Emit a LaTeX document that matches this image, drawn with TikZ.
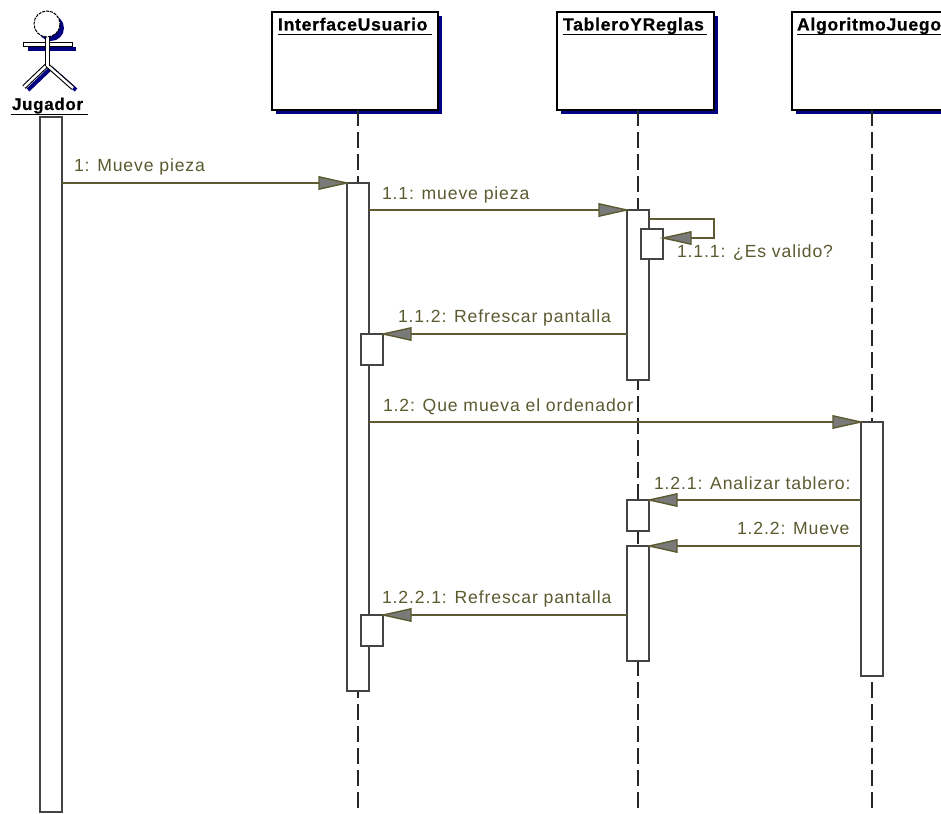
\documentclass[tikz,border=0pt]{standalone}
\usepackage{fontspec}
\usetikzlibrary{arrows.meta,shadows}
\setmainfont{Liberation Sans}
\newfontfamily\msgfont[LetterSpace=5]{Liberation Sans}
\newfontfamily\titlefont[LetterSpace=4,FakeBold=0.6]{Liberation Sans Bold}
\definecolor{olivemsg}{HTML}{5B5A30}
\definecolor{tipgray}{HTML}{7A7A7A}
\definecolor{barline}{HTML}{444444}
\definecolor{navyshadow}{HTML}{000080}
\pgfdeclarearrow{
  name=MsgTip,
  setup code={\pgfarrowssettipend{0pt}\pgfarrowssetlineend{-27pt}\pgfarrowssetvisualbackend{-28pt}\pgfarrowssetbackend{-28pt}},
  drawing code={
    \pgfpathmoveto{\pgfqpoint{0pt}{0pt}}
    \pgfpathlineto{\pgfqpoint{-13pt}{2.8pt}}
    \pgfpathlineto{\pgfqpoint{-28pt}{6.2pt}}
    \pgfpathlineto{\pgfqpoint{-28pt}{-6.2pt}}
    \pgfpathlineto{\pgfqpoint{-13pt}{-2.8pt}}
    \pgfpathclose
    \pgfusepathqfillstroke
  },
  defaults={}
}
\tikzset{
  objbox/.style={draw=black,line width=1.4pt,fill=white,inner sep=0pt,outer sep=0pt,anchor=north west,minimum height=98pt,
    drop shadow={shadow xshift=4pt,shadow yshift=-4pt,fill=navyshadow,opacity=1}},
  titletext/.style={font=\titlefont\fontsize{17.6}{20}\selectfont,text=black,inner sep=0pt,outer sep=0pt,anchor=base west},
  actortext/.style={font=\titlefont\fontsize{17}{20}\selectfont,text=black,inner sep=0pt,outer sep=0pt,anchor=base west},
  uline/.style={draw=black,line width=1.2pt},
  lifeline/.style={draw=black!85,line width=1.6pt,dash pattern=on 16pt off 6pt},
  actbar/.style={draw=barline,line width=1.4pt,fill=white,inner sep=0pt,outer sep=0pt,anchor=north west,minimum width=22pt},
  msg/.style={draw=olivemsg,line width=1.4pt,-{MsgTip[fill=tipgray]}},
  msgtext/.style={font=\msgfont\fontsize{17.6}{20}\selectfont,text=olivemsg,inner sep=0pt,outer sep=0pt,anchor=base west},
  act/.style={draw=black,line width=1pt,fill=white}
}
\begin{document}
\begin{tikzpicture}[x=1pt,y=-1pt]
\useasboundingbox (0,0) rectangle (941,813);
\fill[white] (0,0) rectangle (941,813);
\clip (0,0) rectangle (941,813);

% actor shadow
\fill[navyshadow] (51,28) circle (13);
\fill[navyshadow] (28,47) rectangle (76,51);
\draw[navyshadow,line width=4pt] (51,68) -- (28,90);
\draw[navyshadow,line width=4pt] (51,68) -- (76,90);
% actor
\draw[black,line width=4.6pt] (47,65) -- (24,87);
\draw[white,line width=2.4pt] (47,65) -- (24,87);
\draw[black,line width=4.6pt] (47,65) -- (73,88);
\draw[white,line width=2.4pt] (47,65) -- (73,88);
\draw[act] (23,43) rectangle (72,47);
\draw[black,line width=4.4pt] (47.5,37) -- (47.5,66);
\draw[white,line width=2.2pt] (47.5,37) -- (47.5,66);
\draw[black,line width=1pt,fill=white,dash pattern=on 3pt off 1pt] (47,24) circle (13);
\node[actortext] (tJ) at (12,110) {Jugador};
\draw[uline] (11,114.5) -- (88,114.5);

% lifeline ends
\coordinate (endI) at (358,813);
\coordinate (endT) at (638,813);
\coordinate (endA) at (872,813);

% objects
\node[objbox,minimum width=166pt] (boxI) at (272,12) {};
\node[objbox,minimum width=157pt] (boxT) at (557,12) {};
\node[objbox,minimum width=170pt] (boxA) at (792,12) {};
\draw[lifeline] (boxI.south -| endI) -- (endI);
\draw[lifeline] (boxT.south -| endT) -- (endT);
\draw[lifeline] (boxA.south -| endA) -- (endA);

\node[titletext] (tI) at (278,30.5) {InterfaceUsuario};
\node[titletext] (tT) at (563,30.5) {TableroYReglas};
\node[titletext] (tA) at (797,30.5) {AlgoritmoJuego};
\draw[uline] (278,34.5) -- (432,34.5);
\draw[uline] (563,34.5) -- (707,34.5);
\draw[uline] (797,34.5) -- (941,34.5);

% activations
\node[actbar,minimum height=695pt] (barJ) at (40,117) {};
\node[actbar,minimum height=508pt] (barI) at (347,183) {};
\node[actbar,minimum height=31pt] (barIa) at (361,334) {};
\node[actbar,minimum height=31pt] (barIb) at (361,615) {};
\node[actbar,minimum height=170pt] (barT) at (627,210) {};
\node[actbar,minimum height=30pt] (barTa) at (641,229) {};
\node[actbar,minimum height=31pt] (barTb) at (627,500) {};
\node[actbar,minimum height=115pt] (barTc) at (627,546) {};
\node[actbar,minimum height=254pt] (barA) at (861,422) {};

% messages
\draw[msg] (barJ.east |- 0,183) -- (barI.north west);
\draw[msg] (barI.east |- barT.north) -- (barT.north west);
\coordinate (selfa) at (714,219);
\coordinate (selfb) at (714,238);
\draw[msg] (barT.east |- selfa) -- (selfa) -- (selfb) -- (barTa.east |- selfb);
\draw[msg] (barT.west |- barIa.north) -- (barIa.north east);
\draw[msg] (barI.east |- barA.north) -- (barA.north west);
\draw[msg] (barA.west |- barTb.north) -- (barTb.north east);
\draw[msg] (barA.west |- barTc.north) -- (barTc.north east);
\draw[msg] (barTc.west |- barIb.north) -- (barIb.north east);

% labels
\node[msgtext] (m1) at (74,171.5) {1: Mueve pieza};
\node[msgtext] (m2) at (382,199) {1.1: mueve pieza};
\node[msgtext] (m3) at (677,257) {1.1.1: ¿Es valido?};
\node[msgtext] (m4) at (398,322.5) {1.1.2: Refrescar pantalla};
\node[msgtext] (m5) at (383,411) {1.2: Que mueva el ordenador};
\node[msgtext] (m6) at (654,489) {1.2.1: Analizar tablero:};
\node[msgtext] (m7) at (737,534.5) {1.2.2: Mueve};
\node[msgtext] (m8) at (382,603.5) {1.2.2.1: Refrescar pantalla};
\end{tikzpicture}
\end{document}
